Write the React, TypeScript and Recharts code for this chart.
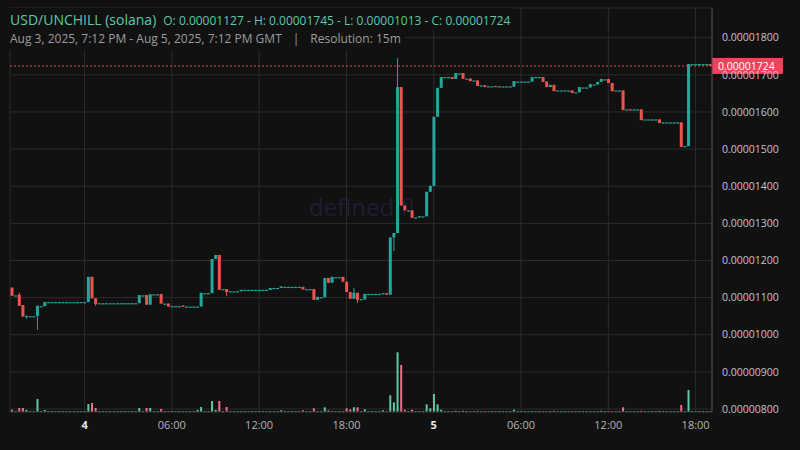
import React from 'react';
import { ComposedChart, Bar, XAxis, YAxis, CartesianGrid, ReferenceLine, Cell } from 'recharts';

// prices are in units of 1e-8 USD, one candle per 15 minutes, Aug 3 19:00 -> Aug 5 19:00 GMT
const opens = [
  1127, 1106, 1108, 1080, 1049, 1050, 1050, 1051, 1077, 1077,
  1088, 1088, 1088, 1088, 1088, 1088, 1088, 1088, 1088, 1088,
  1088, 1088, 1156, 1098, 1085, 1085, 1085, 1085, 1085, 1085,
  1085, 1085, 1085, 1085, 1085, 1085, 1106, 1107, 1081, 1109,
  1109, 1110, 1084, 1084, 1077, 1077, 1077, 1079, 1076, 1076,
  1076, 1076, 1076, 1112, 1112, 1112, 1204, 1215, 1123, 1123,
  1117, 1117, 1117, 1117, 1121, 1121, 1121, 1121, 1121, 1121,
  1121, 1121, 1126, 1126, 1126, 1129, 1129, 1129, 1129, 1129,
  1129, 1123, 1123, 1123, 1094, 1101, 1101, 1153, 1140, 1155,
  1155, 1156, 1143, 1115, 1097, 1113, 1096, 1095, 1110, 1110,
  1110, 1110, 1110, 1112, 1108, 1262, 1274, 1667, 1348, 1335,
  1335, 1316, 1316, 1319, 1319, 1385, 1401, 1587, 1665, 1694,
  1694, 1694, 1689, 1704, 1705, 1690, 1690, 1685, 1685, 1672,
  1672, 1669, 1669, 1670, 1669, 1669, 1669, 1669, 1668, 1682,
  1682, 1682, 1682, 1682, 1694, 1694, 1694, 1682, 1667, 1673,
  1658, 1658, 1658, 1658, 1658, 1653, 1653, 1666, 1666, 1666,
  1674, 1674, 1681, 1688, 1689, 1678, 1658, 1658, 1658, 1607,
  1607, 1607, 1607, 1607, 1580, 1580, 1580, 1580, 1580, 1572,
  1572, 1572, 1572, 1572, 1572, 1508, 1508, 1729, 1729, 1729,
  1729, 1729, 1729,
];

const closes = [
  1105, 1106, 1078, 1049, 1051, 1050, 1050, 1078, 1077, 1088,
  1088, 1088, 1088, 1088, 1088, 1088, 1088, 1088, 1088, 1088,
  1088, 1156, 1098, 1083, 1085, 1085, 1085, 1085, 1085, 1085,
  1085, 1085, 1085, 1085, 1085, 1107, 1106, 1081, 1109, 1109,
  1109, 1084, 1084, 1076, 1077, 1077, 1077, 1076, 1076, 1076,
  1076, 1076, 1113, 1112, 1112, 1204, 1215, 1121, 1123, 1115,
  1117, 1117, 1117, 1121, 1121, 1121, 1121, 1121, 1121, 1121,
  1121, 1126, 1126, 1126, 1130, 1129, 1129, 1129, 1129, 1129,
  1122, 1123, 1123, 1094, 1102, 1101, 1153, 1140, 1156, 1155,
  1155, 1143, 1115, 1097, 1113, 1094, 1096, 1110, 1110, 1110,
  1110, 1110, 1112, 1108, 1262, 1274, 1667, 1348, 1335, 1335,
  1315, 1316, 1319, 1319, 1385, 1401, 1587, 1665, 1694, 1694,
  1694, 1689, 1705, 1704, 1689, 1690, 1683, 1685, 1670, 1672,
  1667, 1669, 1669, 1669, 1669, 1669, 1669, 1669, 1683, 1682,
  1682, 1682, 1682, 1694, 1694, 1694, 1681, 1667, 1673, 1656,
  1658, 1658, 1658, 1658, 1651, 1653, 1667, 1666, 1666, 1675,
  1674, 1681, 1689, 1688, 1678, 1656, 1658, 1658, 1605, 1607,
  1606, 1607, 1607, 1578, 1580, 1580, 1580, 1580, 1570, 1572,
  1572, 1572, 1572, 1572, 1506, 1508, 1729, 1729, 1729, 1729,
  1729, 1729, 1724,
];

// candles whose wicks reach past the body: [index, price]
const wickHighs: [number, number][] = [[2, 1113], [94, 1126], [106, 1745]];
const wickLows: [number, number][] = [[4, 1043], [7, 1013], [23, 1078], [59, 1104], [95, 1086], [105, 1226]];

const volumes = [
  23, 10, 40, 40, 20, 10, 10, 130, 10, 20,
  10, 10, 10, 10, 10, 10, 10, 10, 10, 10,
  10, 80, 90, 40, 10, 10, 10, 10, 10, 10,
  10, 10, 10, 10, 10, 40, 10, 40, 40, 10,
  10, 30, 10, 10, 10, 10, 10, 10, 10, 10,
  10, 20, 50, 10, 10, 110, 20, 110, 10, 50,
  10, 10, 10, 10, 10, 10, 10, 10, 10, 10,
  10, 10, 10, 10, 17, 10, 10, 10, 10, 10,
  17, 10, 10, 37, 10, 10, 47, 17, 10, 10,
  10, 10, 37, 27, 47, 47, 10, 27, 10, 10,
  10, 10, 17, 10, 167, 97, 597, 470, 23, 10,
  23, 10, 10, 10, 77, 37, 180, 77, 23, 10,
  10, 10, 13, 10, 13, 10, 10, 10, 13, 10,
  10, 10, 10, 10, 10, 10, 10, 10, 23, 10,
  10, 10, 10, 10, 10, 10, 10, 10, 10, 13,
  10, 10, 10, 10, 10, 10, 10, 10, 10, 10,
  10, 10, 13, 10, 10, 10, 10, 10, 47, 10,
  10, 10, 10, 13, 10, 10, 10, 10, 13, 10,
  10, 10, 10, 10, 70, 10, 220, 10, 10, 10,
  10, 10, 10,
];

const tickIndex = [20, 44, 68, 92, 116, 140, 164, 188];
const tickLabels = ['4', '06:00', '12:00', '18:00', '5', '06:00', '12:00', '18:00'];
const priceTicks = [800, 900, 1000, 1100, 1200, 1300, 1400, 1500, 1600, 1700, 1800];
const lastPrice = 1724;

const UP = '#26a69a';
const DOWN = '#ef5350';
const VOL_UP = '#5fc6a8';
const VOL_DOWN = '#ee6f88';
const FONT = '"Open Sans", "Noto Sans", sans-serif';

const data = opens.map((o, i) => {
  const c = closes[i];
  const wh = wickHighs.find((w) => w[0] === i);
  const wl = wickLows.find((w) => w[0] === i);
  const high = Math.max(o, c, wh ? wh[1] : -Infinity);
  const low = Math.min(o, c, wl ? wl[1] : Infinity);
  return { i, open: o, close: c, high, low, range: [low, high], vol: volumes[i] };
});

const fmt = (v: number) => (v / 1e8).toFixed(8);

const Candle = (props: any) => {
  const { x, y, width, height, payload } = props;
  if (x == null || y == null) return null;
  const { open, close, high, low } = payload;
  const color = close >= open ? UP : DOWN;
  const cx = x + width / 2;
  const top0 = Math.min(y, y + height);
  const h = Math.abs(height);
  const span = high - low;
  const toY = (v: number) => (span === 0 ? top0 : top0 + ((high - v) / span) * h);
  const bTop = toY(Math.max(open, close));
  const bBot = toY(Math.min(open, close));
  const bh = Math.max(1.2, bBot - bTop);
  return (
    <g>
      {span > 0 && <line x1={cx} x2={cx} y1={top0} y2={top0 + h} stroke={color} strokeWidth={1} />}
      <rect x={cx - 1.5} y={bTop} width={3} height={bh} fill={color} />
    </g>
  );
};

const VolBar = (props: any) => {
  const { x, y, width, height, fill } = props;
  if (x == null || y == null) return null;
  const cx = x + width / 2;
  return <rect x={cx - 1} y={y} width={2} height={Math.max(1, height)} fill={fill} />;
};

const TimeTick = ({ x, y, payload }: any) => {
  const k = tickIndex.indexOf(payload.value);
  const label = k >= 0 ? tickLabels[k] : '';
  const day = label.length === 1;
  return (
    <text x={x} y={y} dy={9} textAnchor="middle" fill={day ? '#e8e8e8' : '#b4b4b4'} fontSize={11} fontWeight={day ? 700 : 400} fontFamily={FONT}>
      {label}
    </text>
  );
};

const PriceTag = ({ viewBox }: any) => {
  if (!viewBox) return null;
  const { x, y, width } = viewBox;
  return (
    <g>
      <rect x={x + width} y={y - 8} width={71} height={16} fill="#f2425d" />
      <text x={x + width + 6} y={y + 4} fill="#ffffff" fontSize={10.5} fontFamily={FONT}>
        {fmt(lastPrice)}
      </text>
    </g>
  );
};

export default function App() {
  const last = data[data.length - 1];
  const o = opens[0];
  const h = Math.max(...data.map((d) => d.high));
  const l = Math.min(...data.map((d) => d.low));
  return (
    <div style={{ position: 'absolute', left: 0, top: 0, width: 800, height: 450, background: '#111111', fontFamily: FONT, overflow: 'hidden' }}>
      <div style={{ position: 'absolute', left: 309, top: 190, fontSize: 24, color: '#1f1d36', zIndex: 0 }}>defined.fi</div>
      <div style={{ position: 'absolute', left: 0, top: 0, zIndex: 1 }}>
        <ComposedChart width={800} height={450} data={data} margin={{ top: 8, right: 0, left: 10, bottom: 0 }} barCategoryGap={0}>
          <CartesianGrid stroke="#2c2c2c" yAxisId="price" />
          <XAxis
            dataKey="i"
            ticks={tickIndex}
            interval={0}
            height={38}
            tick={<TimeTick />}
            tickLine={false}
            axisLine={{ stroke: '#2c2c2c' }}
          />
          <XAxis xAxisId="v" dataKey="i" hide />
          <YAxis
            yAxisId="price"
            orientation="right"
            width={88}
            type="number"
            domain={[792, 1880]}
            ticks={priceTicks}
            allowDataOverflow
            tickFormatter={fmt}
            tickLine={false}
            tickMargin={4}
            axisLine={{ stroke: '#4a4a4a' }}
            tick={{ fill: '#c4c4c4', fontSize: 10.5, fontFamily: FONT }}
          />
          <YAxis yAxisId="vol" domain={[0, 4040]} hide />
          <Bar xAxisId="v" yAxisId="vol" dataKey="vol" shape={<VolBar />} isAnimationActive={false}>
            {data.map((d) => (
              <Cell key={d.i} fill={d.close >= d.open ? VOL_UP : VOL_DOWN} />
            ))}
          </Bar>
          <Bar yAxisId="price" dataKey="range" shape={<Candle />} isAnimationActive={false} />
          <ReferenceLine yAxisId="price" y={last.close} stroke="#f2425d" strokeDasharray="2 2" label={<PriceTag />} />
        </ComposedChart>
      </div>
      <div style={{ position: 'absolute', left: 8, top: 8, zIndex: 2, background: '#111111', padding: '0 4px 0 2px', height: 22, whiteSpace: 'nowrap', color: '#5cc9a7' }}>
        <span style={{ fontSize: 14 }}>USD/UNCHILL (solana)</span>
        <span style={{ fontSize: 12, marginLeft: 7 }}>
          O: {fmt(o)} - H: {fmt(h)} - L: {fmt(l)} - C: {fmt(last.close)}
        </span>
      </div>
      <div style={{ position: 'absolute', left: 8, top: 30, zIndex: 2, background: '#111111', padding: '0 4px 0 2px', height: 20, whiteSpace: 'nowrap', color: '#9c9c9c', fontSize: 12 }}>
        Aug 3, 2025, 7:12 PM - Aug 5, 2025, 7:12 PM GMT<span style={{ margin: '0 11px' }}>|</span>Resolution: 15m
      </div>
    </div>
  );
}
